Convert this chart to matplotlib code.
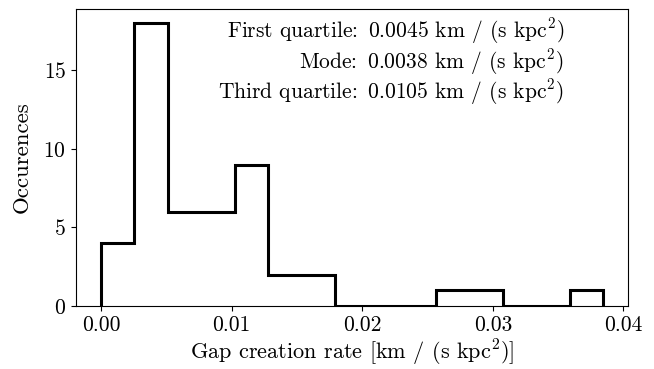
import numpy as np
import matplotlib
matplotlib.use("Agg")
import matplotlib.pyplot as plt

plt.rcParams['font.family'] = 'serif'
plt.rcParams['font.serif'] = ['cmr10']
plt.rcParams['mathtext.fontset'] = 'cm'
plt.rcParams['axes.formatter.use_mathtext'] = True

# Data
bin_min = 0.0
bin_max = 0.03847
counts = [4, 18, 6, 6, 9, 2, 2, 0, 0, 0, 1, 1, 0, 0, 1]
first_quartile = 0.0045
mode = 0.0038
third_quartile = 0.0105
xticks = [0.0, 0.01, 0.02, 0.03, 0.04]
xticklabels = ['0.00', '0.01', '0.02', '0.03', '0.04']
yticks = [0, 5, 10, 15]

edges = np.linspace(bin_min, bin_max, len(counts) + 1)
FS = 15.5

fig = plt.figure(figsize=(6.54, 3.69), dpi=100)
ax = fig.add_axes([0.116, 0.171, 0.845, 0.804])
ax.stairs(counts, edges, color='black', linewidth=2.2)
ax.set_ylim(0, max(counts) * 1.05)
span = bin_max - bin_min
ax.set_xlim(bin_min - 0.05 * span, bin_max + 0.05 * span)
ax.set_xticks(xticks)
ax.set_xticklabels(xticklabels)
ax.set_yticks(yticks)
ax.tick_params(labelsize=FS)
ax.set_xlabel(r'Gap creation rate [km / (s kpc$^2$)]', fontsize=16, labelpad=2)
ax.set_ylabel('Occurences', fontsize=16.5)
ax.yaxis.set_label_coords(-0.080, 0.5)

sp = r' $\,$'
txt = (f'First quartile:{sp}{first_quartile:.4f} km / (s kpc$^2$)\n'
       f'Mode:{sp}{mode:.4f} km / (s kpc$^2$)\n'
       f'Third quartile:{sp}{third_quartile:.4f} km / (s kpc$^2$)')
ax.text(0.883, 0.975, txt, transform=ax.transAxes, ha='right', va='top',
        multialignment='right', fontsize=15.5, linespacing=1.03)

fig.savefig('out.png', dpi=100)
